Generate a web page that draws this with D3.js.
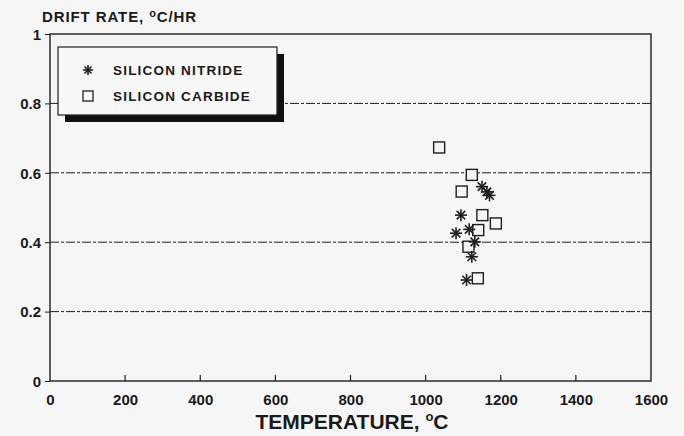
<!DOCTYPE html>
<html>
<head>
<meta charset="utf-8">
<script src="https://cdn.jsdelivr.net/npm/d3@7"></script>
<style>
  html, body { margin:0; padding:0; background:#f6f6f6; }
  svg { display:block; }
  svg text { font-family: "Liberation Sans", Arial, sans-serif; font-weight:bold; fill:#1a1a1a; }
</style>
</head>
<body>
<svg></svg>
<script>
// Drift rate vs temperature, two sensor sheath materials

var nitrideTemp  = [1150, 1163, 1170, 1094, 1116, 1081, 1131, 1123, 1109];
var nitrideDrift = [0.560, 0.545, 0.535, 0.478, 0.437, 0.426, 0.401, 0.358, 0.291];

var carbideTemp  = [1036, 1123, 1096, 1151, 1187, 1140, 1114, 1139];
var carbideDrift = [0.673, 0.594, 0.546, 0.478, 0.454, 0.435, 0.387, 0.296];

var xTicks = [0, 200, 400, 600, 800, 1000, 1200, 1400, 1600];
var yTicks = [0, 0.2, 0.4, 0.6, 0.8, 1];
var legendLabels = ['SILICON NITRIDE', 'SILICON CARBIDE'];

var svgWidth = 684, svgHeight = 436;
var margin = { top:34, right:33, bottom:55, left:50 };
var innerWidth  = svgWidth  - margin.left - margin.right;
var innerHeight = svgHeight - margin.top  - margin.bottom;
var ink = '#1e1e1e';

var svg = d3.select('svg')
  .attr('width', svgWidth).attr('height', svgHeight)
  .attr('viewBox', `0 0 ${svgWidth} ${svgHeight}`);

var xScale = d3.scaleLinear().domain([0, 1600]).range([0, innerWidth]);
var yScale = d3.scaleLinear().domain([0, 1]).range([innerHeight, 0]);

var g = svg.append('g').attr('transform', `translate(${margin.left},${margin.top})`);

// dashed grid lines
g.selectAll('.grid')
  .data(yTicks.filter(function(d){ return d > 0 && d < 1; }))
  .enter().append('line')
  .attr('x1', 0).attr('x2', innerWidth)
  .attr('y1', function(d){ return yScale(d); })
  .attr('y2', function(d){ return yScale(d); })
  .attr('stroke', ink).attr('stroke-width', 1)
  .attr('stroke-dasharray', '9,2,3,2');

// frame
g.append('rect')
  .attr('width', innerWidth).attr('height', innerHeight)
  .attr('fill', 'none').attr('stroke', ink).attr('stroke-width', 1.4);

// y axis
var yAxis = d3.axisLeft(yScale).tickValues(yTicks).tickSize(5).tickPadding(4)
  .tickFormat(function(d){ return d3.format('~g')(d); });
var ya = g.append('g').call(yAxis);
ya.select('.domain').remove();
ya.selectAll('line').attr('stroke', ink);
ya.selectAll('text').attr('font-size', 15).attr('dy', '0.35em');

// x axis, ticks pointing inward
var xAxis = d3.axisBottom(xScale).tickValues(xTicks).tickSize(0).tickPadding(13)
  .tickFormat(d3.format('d'));
var xa = g.append('g').attr('transform', `translate(0,${innerHeight})`).call(xAxis);
xa.select('.domain').remove();
xa.selectAll('text').attr('font-size', 15).attr('dy', '0.71em');
g.selectAll('.xtick')
  .data(xTicks.slice(1, -1))
  .enter().append('line')
  .attr('x1', function(d){ return xScale(d); }).attr('x2', function(d){ return xScale(d); })
  .attr('y1', innerHeight).attr('y2', innerHeight - 6)
  .attr('stroke', ink).attr('stroke-width', 1.2);

// axis titles
var yt = svg.append('text').attr('x', 42).attr('y', 22).attr('font-size', 15)
  .style('letter-spacing', '0.9px');
yt.append('tspan').text('DRIFT RATE, ');
yt.append('tspan').attr('dy', -5).attr('font-size', 11).text('o');
yt.append('tspan').attr('dy', 5).text('C/HR');

var xt = svg.append('text').attr('x', 352).attr('y', 429)
  .attr('text-anchor', 'middle').attr('font-size', 21);
xt.append('tspan').text('TEMPERATURE, ');
xt.append('tspan').attr('dy', -8).attr('font-size', 13).text('o');
xt.append('tspan').attr('dy', 8).text('C');

// markers
function asterisk(sel, r) {
  [0, 45, 90, 135].forEach(function(a) {
    var rad = a * Math.PI / 180;
    sel.append('line')
      .attr('x1', -r * Math.cos(rad)).attr('y1', -r * Math.sin(rad))
      .attr('x2',  r * Math.cos(rad)).attr('y2',  r * Math.sin(rad))
      .attr('stroke', ink).attr('stroke-width', 1.6);
  });
}

g.selectAll('.sq')
  .data(carbideTemp)
  .enter().append('rect')
  .attr('x', function(d){ return xScale(d) - 5.5; })
  .attr('y', function(d, i){ return yScale(carbideDrift[i]) - 5.5; })
  .attr('width', 11).attr('height', 11)
  .attr('fill', '#f6f6f6').attr('stroke', ink).attr('stroke-width', 1.4);

g.selectAll('.star')
  .data(nitrideTemp)
  .enter().append('g')
  .attr('transform', function(d, i){ return `translate(${xScale(d)},${yScale(nitrideDrift[i])})`; })
  .each(function(){ asterisk(d3.select(this), 6); });

// legend with drop shadow
var lg = svg.append('g').attr('transform', 'translate(58,47)');
lg.append('rect').attr('x', 7).attr('y', 7).attr('width', 219).attr('height', 68).attr('fill', '#111');
lg.append('rect').attr('width', 219).attr('height', 68)
  .attr('fill', '#f8f8f8').attr('stroke', ink).attr('stroke-width', 1.2);
var a = lg.append('g').attr('transform', 'translate(30,23)');
asterisk(a, 5);
lg.append('rect').attr('x', 25).attr('y', 44).attr('width', 10).attr('height', 10)
  .attr('fill', 'none').attr('stroke', ink).attr('stroke-width', 1.3);
lg.selectAll('.lt')
  .data(legendLabels)
  .enter().append('text')
  .attr('x', 55).attr('y', function(d, i){ return 28 + i * 26; })
  .attr('font-size', 13.5).style('letter-spacing', '1.2px')
  .text(function(d){ return d; });
</script>
</body>
</html>
